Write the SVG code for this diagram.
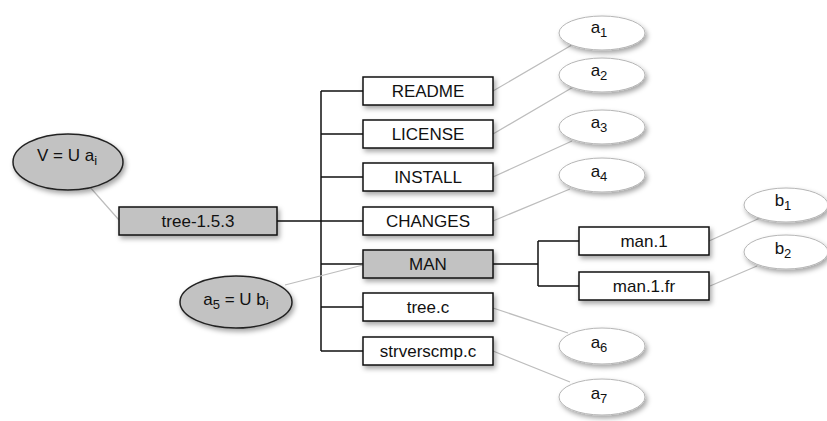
<svg xmlns="http://www.w3.org/2000/svg" width="827" height="421" viewBox="0 0 827 421">
<defs>
<filter id="sh" x="-20%" y="-30%" width="150%" height="180%">
<feDropShadow dx="2" dy="3" stdDeviation="2.5" flood-color="#000" flood-opacity="0.35"/>
</filter>
</defs>
<style>
.box{fill:#fff;stroke:#111;stroke-width:1.5;filter:url(#sh)}
.gbox{fill:#c2c2c2;stroke:#111;stroke-width:1.5;filter:url(#sh)}
.ell{fill:#fff;stroke:#b5b5b5;stroke-width:1;filter:url(#sh)}
.gell{fill:#c2c2c2;stroke:#222;stroke-width:1.5;filter:url(#sh)}
.t{font-family:"Liberation Sans",Arial,sans-serif;font-size:17px;fill:#111;text-anchor:middle}
.e{font-family:"Liberation Sans",Arial,sans-serif;font-size:17px;fill:#111;text-anchor:middle}
.sub{font-size:13px}
.tree{stroke:#111;stroke-width:1.5;fill:none}
.link{stroke:#bdbdbd;stroke-width:1.2;fill:none}
</style>
<g id="connectors">
<path class="tree" d="M277,221 H321 M321,91 V351 M321,91 H363 M321,134 H363 M321,177 H363 M321,221 H363 M321,264 H363 M321,307 H363 M321,351 H363 M493,264 H538 M538,241 V286 M538,241 H579 M538,286 H579"/>
<path class="link" d="M89,186 L119,220 M285,285 L363,265 M493,91 L577,42 M493,134 L575,86 M493,177 L572,141 M493,221 L570,189 M493,308 L568,333 M493,351 L570,382 M709,241 L760,218 M710,286 L757,266"/>
</g>
<g id="V"><ellipse class="gell" cx="68" cy="162" rx="55" ry="28"/><text class="e" x="67" y="161">V = U a<tspan class="sub" dy="4">i</tspan></text></g>
<g id="tree-1.5.3"><rect class="gbox" x="119" y="207" width="158" height="28"/><text class="t" x="198" y="227">tree-1.5.3</text></g>
<g id="a5"><ellipse class="gell" cx="236" cy="302" rx="56" ry="26"/><text class="e" x="236" y="305">a<tspan class="sub" dy="4">5</tspan><tspan dy="-4"> = U b</tspan><tspan class="sub" dy="4">i</tspan></text></g>
<g id="README"><rect class="box" x="363" y="77" width="130" height="28"/><text class="t" x="428" y="97">README</text></g>
<g id="LICENSE"><rect class="box" x="363" y="120" width="130" height="28"/><text class="t" x="428" y="140">LICENSE</text></g>
<g id="INSTALL"><rect class="box" x="363" y="163" width="130" height="28"/><text class="t" x="428" y="183">INSTALL</text></g>
<g id="CHANGES"><rect class="box" x="363" y="207" width="130" height="28"/><text class="t" x="428" y="227">CHANGES</text></g>
<g id="MAN"><rect class="gbox" x="363" y="250" width="130" height="28"/><text class="t" x="428" y="270">MAN</text></g>
<g id="tree.c"><rect class="box" x="363" y="293" width="130" height="28"/><text class="t" x="428" y="313">tree.c</text></g>
<g id="strverscmp.c"><rect class="box" x="363" y="337" width="130" height="28"/><text class="t" x="428" y="357">strverscmp.c</text></g>
<g id="man.1"><rect class="box" x="579" y="227" width="130" height="28"/><text class="t" x="644" y="247">man.1</text></g>
<g id="man.1.fr"><rect class="box" x="579" y="272" width="130" height="28"/><text class="t" x="644" y="292">man.1.fr</text></g>
<g id="a1"><ellipse class="ell" cx="602" cy="33" rx="43" ry="17"/><text class="e" x="599" y="33">a<tspan class="sub" dy="4">1</tspan></text></g>
<g id="a2"><ellipse class="ell" cx="602" cy="75" rx="43" ry="17"/><text class="e" x="599" y="76">a<tspan class="sub" dy="4">2</tspan></text></g>
<g id="a3"><ellipse class="ell" cx="602" cy="127" rx="43" ry="17"/><text class="e" x="599" y="128">a<tspan class="sub" dy="4">3</tspan></text></g>
<g id="a4"><ellipse class="ell" cx="602" cy="175" rx="43" ry="17"/><text class="e" x="599" y="177">a<tspan class="sub" dy="4">4</tspan></text></g>
<g id="a6"><ellipse class="ell" cx="602" cy="346" rx="43" ry="18"/><text class="e" x="599" y="348">a<tspan class="sub" dy="4">6</tspan></text></g>
<g id="a7"><ellipse class="ell" cx="602" cy="397" rx="43" ry="18"/><text class="e" x="599" y="399">a<tspan class="sub" dy="4">7</tspan></text></g>
<g id="b1"><ellipse class="ell" cx="786" cy="205" rx="42" ry="17"/><text class="e" x="783" y="206">b<tspan class="sub" dy="4">1</tspan></text></g>
<g id="b2"><ellipse class="ell" cx="786" cy="252" rx="42" ry="17"/><text class="e" x="783" y="254">b<tspan class="sub" dy="4">2</tspan></text></g>
</svg>
